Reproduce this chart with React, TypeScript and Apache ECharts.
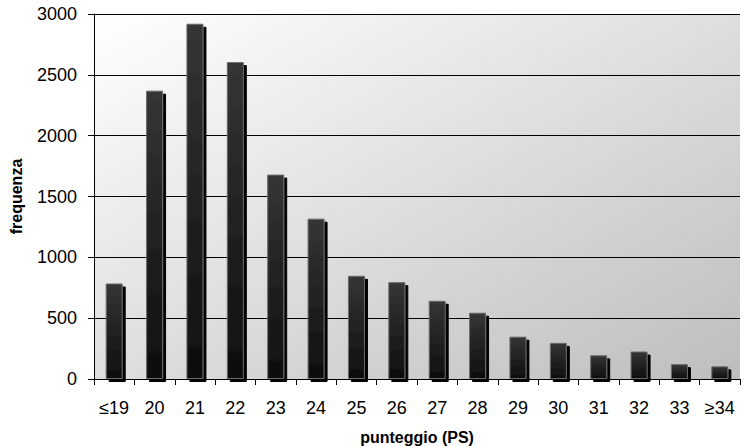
import React, { useEffect, useRef } from "react";
import * as echarts from "echarts";

const categories = ["≤19", "20", "21", "22", "23", "24", "25", "26", "27", "28", "29", "30", "31", "32", "33", "≥34"];
const frequencies = [785, 2370, 2920, 2605, 1680, 1318, 848, 796, 643, 545, 348, 297, 195, 226, 122, 104];
const yMin = 0;
const yMax = 3000;
const yStep = 500;

export default function App() {
  const ref = useRef<HTMLDivElement>(null);
  useEffect(() => {
    document.body.style.margin = "0";
    const chart = echarts.init(ref.current!, null, { renderer: "svg" });
    const font = "Liberation Sans, Arial, sans-serif";
    chart.setOption({
      animation: false,
      backgroundColor: "#ffffff",
      textStyle: { fontFamily: font },
      grid: {
        left: 94,
        right: 6,
        top: 14,
        bottom: 68,
        outerBoundsMode: "none",
        containLabel: false,
        show: true,
        borderWidth: 0,
        backgroundColor: new echarts.graphic.LinearGradient(0, 0, 1, 1, [
          { offset: 0, color: "#ffffff" },
          { offset: 1, color: "#bdbdbd" },
        ]),
      },
      xAxis: {
        type: "category",
        data: categories,
        name: "punteggio (PS)",
        nameLocation: "middle",
        nameGap: 50,
        nameTextStyle: { fontSize: 16, lineHeight: 16, fontWeight: "bold", color: "#000", fontFamily: font },
        axisLine: { lineStyle: { color: "#000", width: 1 } },
        axisTick: { show: true, length: 6, alignWithLabel: false, lineStyle: { color: "#000" } },
        axisLabel: { color: "#000", fontSize: 18, margin: 20, fontFamily: font },
        splitLine: { show: false },
      },
      yAxis: {
        type: "value",
        min: yMin,
        max: yMax,
        interval: yStep,
        name: "frequenza",
        nameLocation: "middle",
        nameRotate: 90,
        nameGap: 70,
        nameTextStyle: { fontSize: 16, fontWeight: "bold", color: "#000", fontFamily: font },
        axisLine: { show: true, lineStyle: { color: "#000", width: 1 } },
        axisTick: { show: true, length: 6, lineStyle: { color: "#000" } },
        axisLabel: { color: "#000", fontSize: 18, margin: 17, fontFamily: font, formatter: (v: number) => String(v) },
        splitLine: { show: true, lineStyle: { color: "#000", width: 1 } },
      },
      series: [
        {
          type: "bar",
          data: frequencies,
          barWidth: 17,
          itemStyle: {
            color: new echarts.graphic.LinearGradient(0, 0, 0, 1, [
              { offset: 0, color: "#353535" },
              { offset: 1, color: "#0e0e0e" },
            ]),
            borderColor: "#6a6a6a",
            borderWidth: 1,
            shadowColor: "#000",
            shadowBlur: 0,
            shadowOffsetX: 3,
            shadowOffsetY: 3,
          },
        },
      ],
    });
    return () => chart.dispose();
  }, []);
  return <div ref={ref} style={{ position: "absolute", left: 0, top: 0, width: 746, height: 447 }} />;
}
